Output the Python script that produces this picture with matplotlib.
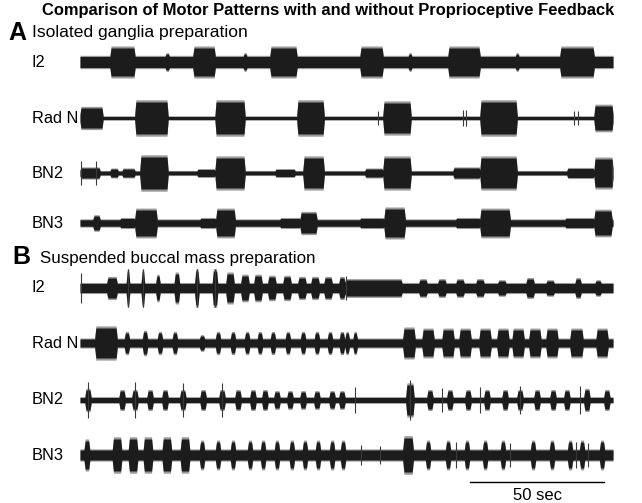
import numpy as np
import matplotlib.pyplot as plt

plt.rcParams['font.family'] = ['Liberation Sans', 'DejaVu Sans']

# recording length (s) and the scale bar length (s)
duration = 200.0
scale_bar = 50.0

channels = ["I2", "Rad N", "BN2", "BN3"]

# bursts: (onset s, offset s, half amplitude)
# --- A: isolated ganglia
a_i2_base = 5.5
a_i2_bursts = [(11.3, 20.6, 14), (42.4, 50.7, 14), (71.3, 81.4, 14), (105.1, 113.7, 14),
               (138.1, 150.1, 14), (180.1, 192.9, 14),
               (32.0, 33.5, 8), (61.3, 62.6, 8), (123.2, 124.5, 8), (163.4, 164.7, 8)]
a_radn_base = 1.5
a_radn_bursts = [(0.0, 8.6, 10), (20.6, 33.0, 16), (50.7, 61.9, 16), (81.4, 91.6, 16),
                 (113.7, 124.2, 15), (150.1, 164.0, 16), (192.9, 200.0, 12)]
a_radn_spikes = [(111.8, 7), (143.7, 8), (144.8, 8), (185.4, 7), (186.9, 7)]
a_bn2_base = 1.8
a_bn2_bursts = [(0.0, 7.5, 5), (11.3, 14.3, 4), (15.8, 20.6, 4), (22.5, 33.0, 16),
                (43.9, 50.7, 3.5), (50.7, 61.9, 15), (73.2, 80.7, 3.5), (83.7, 91.6, 15),
                (106.9, 113.7, 4), (113.7, 124.2, 15), (140.0, 150.1, 5), (150.1, 164.0, 15),
                (182.7, 192.9, 4.5), (192.9, 200.0, 14)]
a_bn2_spikes = [(0.3, 12), (6.0, 12), (199.5, 12)]
a_bn3_base = 3.2
a_bn3_bursts = [(4.9, 7.5, 7), (20.6, 28.9, 13), (51.0, 58.2, 13), (82.6, 88.9, 10),
                (114.1, 122.0, 14), (150.1, 161.4, 13), (192.9, 199.6, 12),
                (15.0, 20.6, 4.5), (45.0, 51.0, 4.5), (75.0, 82.6, 4.5), (105.0, 114.1, 4.5),
                (141.0, 150.1, 4.5), (182.0, 192.9, 4.5)]

# --- B: suspended buccal mass
b_i2_base = 4.5
b_i2_bursts = [(10.1, 13.9, 10), (17.4, 18.6, 17), (23.0, 24.2, 17), (28.5, 30.0, 12),
               (35.4, 37.3, 14), (43.1, 44.6, 17), (49.7, 51.6, 17), (54.8, 57.8, 14),
               (60.4, 63.4, 12), (65.3, 68.3, 12), (70.5, 73.5, 11), (76.2, 79.2, 11),
               (81.8, 84.8, 10), (86.7, 89.7, 10), (91.6, 94.6, 10), (97.2, 99.4, 10),
               (99.4, 120.8, 8), (127.2, 130.2, 8), (134.3, 137.3, 8), (141.1, 144.1, 8),
               (148.6, 151.6, 8), (156.8, 159.8, 7), (167.4, 170.4, 9), (174.9, 177.9, 7),
               (185.8, 188.0, 9), (193.3, 195.5, 7)]
b_i2_spikes = [(0.2, 15), (18.0, 19), (23.6, 19), (43.9, 19), (50.7, 19), (99.8, 12)]
b_radn_base = 4.0
b_radn_bursts = [(5.6, 13.9, 15), (16.7, 18.5, 10), (23.5, 25.3, 11), (29.1, 30.9, 10),
                 (34.7, 36.5, 10), (44.9, 46.7, 7), (50.9, 52.7, 10), (56.5, 58.3, 10),
                 (61.8, 63.6, 10), (66.6, 68.4, 10), (71.5, 73.3, 10), (77.1, 78.9, 10),
                 (82.8, 84.6, 10), (88.0, 89.8, 10), (92.9, 94.7, 10), (97.4, 99.2, 10),
                 (99.5, 101.0, 10), (102.5, 104.0, 10),
                 (121.2, 125.7, 14), (128.4, 132.8, 13), (135.9, 140.3, 13), (142.3, 146.7, 13),
                 (149.8, 154.2, 13), (156.5, 160.9, 13), (162.2, 166.6, 13), (168.5, 172.9, 13),
                 (174.9, 179.3, 13), (183.9, 188.7, 13), (193.7, 198.1, 13)]
b_bn2_base = 2.5
b_bn2_bursts = [(1.9, 4.1, 10), (14.7, 16.9, 9), (19.5, 21.7, 9), (25.2, 27.4, 9),
                (30.8, 33.0, 9), (37.5, 39.7, 9), (45.1, 47.3, 9), (52.2, 54.4, 9),
                (58.2, 60.4, 9), (63.8, 66.0, 9), (68.3, 70.5, 9), (72.8, 75.0, 8),
                (77.7, 79.9, 8), (82.6, 84.8, 8), (87.8, 90.0, 8), (93.5, 95.7, 8),
                (97.2, 99.4, 8), (122.3, 125.3, 15), (130.2, 132.4, 9), (137.7, 139.9, 9),
                (144.5, 146.7, 9), (151.6, 153.8, 9), (158.4, 160.6, 9), (164.0, 166.2, 9),
                (170.4, 172.6, 9), (176.4, 178.6, 9), (181.6, 183.8, 9), (189.1, 191.3, 10),
                (196.6, 198.8, 9)]
b_bn2_spikes = [(3.0, 18), (20.6, 18), (38.6, 17), (53.3, 17), (103.2, 13), (123.8, 20),
                (136.0, 12), (150.0, 13), (165.1, 14), (187.5, 14)]
b_bn3_base = 5.0
b_bn3_bursts = [(1.6, 3.6, 14), (12.2, 15.6, 16), (18.2, 21.6, 16), (23.8, 27.2, 16),
                (30.9, 34.3, 16), (37.7, 41.1, 16), (44.9, 46.7, 13), (50.9, 52.7, 13),
                (56.5, 58.3, 13), (62.9, 64.7, 13), (67.8, 69.6, 13), (73.0, 74.8, 13),
                (78.6, 80.4, 13), (83.5, 85.3, 13), (88.4, 90.2, 13), (93.7, 95.5, 13),
                (97.8, 99.6, 13), (121.2, 125.0, 17), (129.7, 131.5, 13), (137.2, 139.0, 13),
                (144.3, 146.1, 13), (151.1, 152.9, 13), (157.8, 159.6, 13), (169.1, 170.9, 13),
                (176.2, 178.0, 13), (183.0, 184.8, 13), (187.5, 189.3, 13), (195.0, 196.8, 13)]
b_bn3_spikes = [(105.5, 10), (112.6, 9), (141.0, 13), (161.4, 12), (186.0, 13), (190.5, 12)]

panel_a = [(a_i2_base, a_i2_bursts, []), (a_radn_base, a_radn_bursts, a_radn_spikes),
           (a_bn2_base, a_bn2_bursts, a_bn2_spikes), (a_bn3_base, a_bn3_bursts, [])]
panel_b = [(b_i2_base, b_i2_bursts, b_i2_spikes), (b_radn_base, b_radn_bursts, []),
           (b_bn2_base, b_bn2_bursts, b_bn2_spikes), (b_bn3_base, b_bn3_bursts, b_bn3_spikes)]

# vertical position of each trace (px from top of figure)
offsets_a = [62, 118, 173, 223]
offsets_b = [288, 343, 400, 455]

W, H = 642, 503
x0_px, px_per_s = 80, 2.665

fig = plt.figure(figsize=(W / 100, H / 100), dpi=100)
ax = fig.add_axes([0, 0, 1, 1])
ax.set_xlim(-x0_px / px_per_s, (W - x0_px) / px_per_s)
ax.set_ylim(H, 0)
ax.axis("off")

t = np.linspace(0, duration, 8000)


def envelope(base, bursts):
    env = np.full_like(t, base)
    for on, off, amp in bursts:
        # short bursts come out spindle shaped, long ones stay boxy
        ramp = min(0.3 * (off - on), 0.35)
        shape = np.interp(t, [on - 0.1, on + ramp, off - ramp, off + 0.1],
                          [base, amp, amp, base], left=0, right=0)
        env = np.maximum(env, shape)
    return env


def draw_trace(y, base, bursts, spikes):
    env = envelope(base, bursts)
    fringe = env * 1.1 + 0.6
    ax.fill_between(t, y - fringe, y + fringe, color="#9a9a9a", lw=0)
    ax.fill_between(t, y - env, y + env, color="#1c1c1c", lw=0)
    for ts, h in spikes:
        ax.vlines(ts, y - h, y + h, color="#3a3a3a", lw=0.8)


for (base, bursts, spikes), y in zip(panel_a, offsets_a):
    draw_trace(y, base, bursts, spikes)
for (base, bursts, spikes), y in zip(panel_b, offsets_b):
    draw_trace(y, base, bursts, spikes)

label_x = -x0_px / px_per_s + 32 / px_per_s
for name, y in zip(channels, offsets_a):
    ax.text(label_x, y, name, fontsize=11.8, va="center", ha="left")
for name, y in zip(channels, offsets_b):
    ax.text(label_x, y, name, fontsize=11.8, va="center", ha="left")

fig.text(42 / W, 1 - 11 / H,
         "Comparison of Motor Patterns with and without Proprioceptive Feedback",
         fontsize=11.9, fontweight="bold", va="center", ha="left")
fig.text(8 / W, 1 - 33 / H, "A", fontsize=18, fontweight="bold", va="center", ha="left")
fig.text(32 / W, 1 - 32 / H, "Isolated ganglia preparation", fontsize=12.6,
         va="center", ha="left")
fig.text(12 / W, 1 - 257 / H, "B", fontsize=18, fontweight="bold", va="center", ha="left")
fig.text(40 / W, 1 - 258 / H, "Suspended buccal mass preparation", fontsize=12.2,
         va="center", ha="left")

# 50 s scale bar
bar_end = 196.5
ax.plot([bar_end - scale_bar, bar_end], [482, 482], color="black", lw=1)
ax.text(bar_end - scale_bar / 2, 495, "%d sec" % scale_bar, fontsize=12,
        ha="center", va="center")

plt.savefig("out.png", dpi=100)
